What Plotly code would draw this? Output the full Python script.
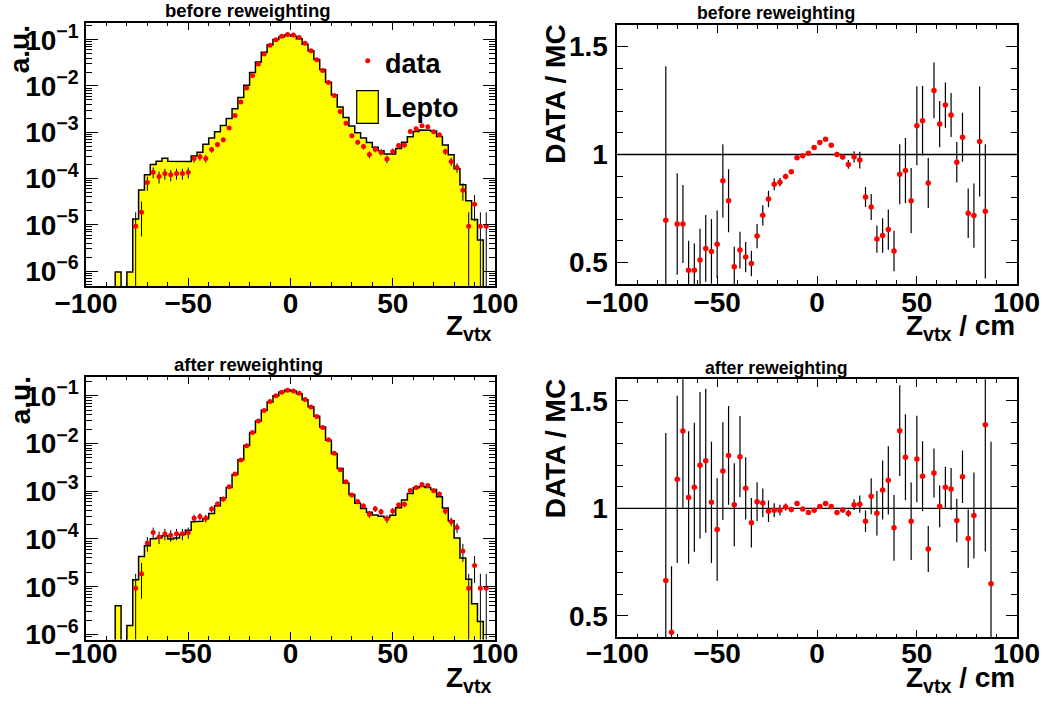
import numpy as np
import plotly.graph_objects as go

# ---- binning of the vertex z distribution -------------------------------
Z_LOW, Z_HIGH, N_BINS = -100.0, 100.0, 70
edges = np.linspace(Z_LOW, Z_HIGH, N_BINS + 1)
centers = 0.5 * (edges[:-1] + edges[1:])

# Lepto MC, normalised (a.u.), before the z-vertex reweighting
lepto_before = [
    0, 0, 0, 0, 0, 9.5e-7, 0, 9.5e-7, 1.33e-5, 5.66e-5,
    1.21e-4, 2.0e-4, 2.35e-4, 2.75e-4, 2.35e-4, 2.27e-4, 2.30e-4, 2.34e-4, 3.05e-4, 3.70e-4,
    5.5e-4, 7.5e-4, 1.03e-3, 1.39e-3, 1.99e-3, 3.2e-3, 5.65e-3, 1.04e-2, 1.95e-2, 3.3e-2,
    5.33e-2, 7.8e-2, 0.1005, 0.116, 0.126, 0.119, 0.105, 0.080, 0.0578, 0.0373,
    0.0227, 0.0120, 6.4e-3, 3.5e-3, 2.07e-3, 1.37e-3, 9.7e-4, 7.5e-4, 5.97e-4, 4.73e-4,
    4.0e-4, 3.37e-4, 3.38e-4, 4.46e-4, 6.1e-4, 8.0e-4, 1.04e-3, 1.12e-3, 1.11e-3, 1.06e-3,
    8.1e-4, 5.3e-4, 3.25e-4, 1.63e-4, 7.3e-5, 3.3e-5, 1.3e-5, 4.7e-6, 0, 0,
]

# Lepto MC, normalised (a.u.), after the z-vertex reweighting
lepto_after = [
    0, 0, 0, 0, 0, 4.0e-6, 0, 1.55e-6, 1.40e-5, 4.3e-5,
    7.2e-5, 1.01e-4, 1.05e-4, 1.17e-4, 1.0e-4, 1.05e-4, 1.245e-4, 1.52e-4, 2.30e-4, 2.36e-4,
    2.65e-4, 3.40e-4, 4.96e-4, 7.34e-4, 1.20e-3, 2.24e-3, 4.54e-3, 9.08e-3, 1.705e-2, 2.95e-2,
    4.93e-2, 7.38e-2, 0.1003, 0.120, 0.131, 0.125, 0.1096, 0.0827, 0.0589, 0.0372,
    0.0222, 0.0117, 6.11e-3, 2.99e-3, 1.49e-3, 8.56e-4, 5.61e-4, 4.35e-4, 3.63e-4, 3.16e-4,
    2.99e-4, 2.82e-4, 3.12e-4, 4.49e-4, 6.57e-4, 8.93e-4, 1.18e-3, 1.26e-3, 1.20e-3, 1.08e-3,
    7.66e-4, 4.46e-4, 2.41e-4, 1.05e-4, 4.0e-5, 1.43e-5, 4.4e-6, 1.86e-6, 0, 0,
]

# data, normalised (a.u.), and its statistical uncertainty
data_norm = [
    None, None, None, None, None, None, None, None, 9.3e-6, 1.86e-5,
    8.2e-5, 1.37e-4, 1.10e-4, 1.28e-4, 1.20e-4, 1.28e-4, 1.28e-4, 1.37e-4, 2.70e-4, 2.94e-4,
    2.70e-4, 4.22e-4, 5.42e-4, 6.85e-4, 1.24e-3, 2.30e-3, 4.48e-3, 9.0e-3, 1.69e-2, 2.97e-2,
    4.9e-2, 7.54e-2, 0.100, 0.118, 0.130, 0.126, 0.112, 0.0834, 0.0578, 0.0369,
    0.0217, 0.0119, 6.23e-3, 2.81e-3, 1.57e-3, 8.36e-4, 6.09e-4, 4.91e-4, 3.30e-4, 4.30e-4,
    3.70e-4, 2.65e-4, 3.83e-4, 5.16e-4, 5.33e-4, 1.04e-3, 1.19e-3, 1.38e-3, 1.31e-3, 1.02e-3,
    8.79e-4, 3.83e-4, 2.33e-4, 1.73e-4, 5.6e-5, 9.3e-6, 2.79e-5, 9.3e-6, 9.3e-6, None,
]
data_err = [
    0, 0, 0, 0, 0, 0, 0, 0, 9.3e-6, 1.3e-5,
    2.8e-5, 3.6e-5, 3.2e-5, 3.4e-5, 3.3e-5, 3.4e-5, 3.4e-5, 3.6e-5, 5.0e-5, 5.2e-5,
    5.0e-5, 6.3e-5, 7.1e-5, 8.0e-5, 1.07e-4, 1.46e-4, 2.0e-4, 2.9e-4, 4.0e-4, 5.3e-4,
    6.8e-4, 8.4e-4, 9.6e-4, 1.05e-3, 1.1e-3, 1.08e-3, 1.02e-3, 8.8e-4, 7.3e-4, 5.9e-4,
    4.5e-4, 3.3e-4, 2.4e-4, 1.6e-4, 1.21e-4, 8.8e-5, 7.5e-5, 6.8e-5, 5.5e-5, 6.3e-5,
    5.9e-5, 5.0e-5, 6.0e-5, 6.9e-5, 7.0e-5, 9.8e-5, 1.05e-4, 1.13e-4, 1.1e-4, 9.7e-5,
    9.0e-5, 6.0e-5, 4.65e-5, 4.0e-5, 2.3e-5, 9.3e-6, 1.6e-5, 9.3e-6, 9.3e-6, 0,
]

# DATA / MC before reweighting
ratio_before = [
    None, None, None, None, None, None, None, None, 0.695, None,
    0.678, 0.678, 0.464, 0.464, 0.511, 0.565, 0.551, 0.584, 0.878, 0.786,
    0.480, 0.557, 0.525, 0.495, 0.622, 0.718, 0.794, 0.862, 0.872, 0.898,
    0.920, 0.985, 0.994, 1.006, 1.033, 1.056, 1.071, 1.043, 1.000, 0.988,
    0.954, 0.989, 0.974, 0.803, 0.757, 0.608, 0.625, 0.652, 0.553, 0.909,
    0.926, 0.786, 1.133, 1.156, 0.868, 1.297, 1.141, 1.229, 1.183, 0.964,
    1.080, 0.728, 0.717, 1.060, 0.737, None, None, None, None, None,
]
ratio_before_err = [
    0, 0, 0, 0, 0, 0, 0, 0, 0.714, 0,
    0.235, 0.181, 0.136, 0.124, 0.145, 0.155, 0.150, 0.156, 0.170, 0.146,
    0.093, 0.085, 0.070, 0.059, 0.056, 0.047, 0.038, 0.028, 0.019, 0.013,
    0.010, 0.008, 0.007, 0.007, 0.007, 0.007, 0.007, 0.007, 0.008, 0.010,
    0.020, 0.026, 0.039, 0.046, 0.060, 0.063, 0.080, 0.093, 0.094, 0.139,
    0.151, 0.151, 0.183, 0.161, 0.116, 0.129, 0.107, 0.105, 0.102, 0.094,
    0.114, 0.115, 0.149, 0.255, 0.311, 0, 0, 0, 0, 0,
]

# DATA / MC after reweighting
ratio_after = [
    None, None, None, None, None, None, None, None, 0.664, 0.424,
    1.135, 1.359, 1.050, 1.098, 1.200, 1.221, 1.028, 0.901, 1.173, 1.246,
    1.017, 1.240, 1.093, 0.933, 1.031, 1.025, 0.986, 0.991, 0.991, 1.006,
    0.994, 1.022, 0.997, 0.981, 0.991, 1.008, 1.022, 1.008, 0.981, 0.992,
    0.977, 1.017, 1.019, 0.940, 1.056, 0.977, 1.085, 1.130, 0.909, 1.361,
    1.238, 0.940, 1.229, 1.149, 0.811, 1.164, 1.009, 1.098, 1.090, 0.943,
    1.147, 0.859, 0.966, None, 1.389, 0.649, None, None, None, None,
]
ratio_after_err = [
    0, 0, 0, 0, 0, 0, 0, 0, 0.686, 0.306,
    0.389, 0.362, 0.308, 0.300, 0.341, 0.335, 0.282, 0.239, 0.227, 0.230,
    0.193, 0.189, 0.145, 0.115, 0.090, 0.067, 0.050, 0.033, 0.025, 0.016,
    0.012, 0.010, 0.008, 0.008, 0.008, 0.008, 0.008, 0.008, 0.008, 0.010,
    0.016, 0.025, 0.040, 0.050, 0.084, 0.104, 0.137, 0.159, 0.153, 0.211,
    0.200, 0.180, 0.201, 0.163, 0.107, 0.114, 0.097, 0.095, 0.098, 0.101,
    0.122, 0.135, 0.200, 0, 0.590, 0.660, 0, 0, 0, 0,
]

# ---- styling ------------------------------------------------------------
W, H = 1045, 704
FONT = "Liberation Sans"
BLACK = "black"
RED = "#ff0000"
YELLOW = "#ffff00"
LOG_FLOOR = 1e-12   # empty bins are drawn down past the lower frame edge


def px_x(px):
    return px / W


def px_y(py):
    return 1 - py / H


def step_polygon(values):
    """Closed outline of a histogram: up/down steps through every bin edge."""
    xs, ys = [edges[0]], [LOG_FLOOR]
    for i, v in enumerate(values):
        h = v if v > 0 else LOG_FLOOR
        xs += [edges[i], edges[i + 1]]
        ys += [h, h]
    xs.append(edges[-1])
    ys.append(LOG_FLOOR)
    return xs, ys


def tick_font(size=28):
    return dict(family=FONT, size=size, color=BLACK, weight="bold")


fig = go.Figure()

panels = [
    # (x axis, y axis, MC histogram)
    ("x", "y", lepto_before),
    ("x3", "y3", lepto_after),
]
for xa, ya, mc in panels:
    hx, hy = step_polygon(mc)
    fig.add_trace(go.Scatter(
        x=hx, y=hy, mode="lines", fill="toself", fillcolor=YELLOW,
        line=dict(color=BLACK, width=1.5), xaxis=xa, yaxis=ya,
        showlegend=False, hoverinfo="skip"))
    fig.add_trace(go.Scatter(
        x=centers, y=data_norm, mode="markers",
        marker=dict(color=RED, size=5),
        error_y=dict(type="data", array=data_err, color=BLACK, thickness=1, width=0),
        xaxis=xa, yaxis=ya, showlegend=False))

ratio_panels = [
    ("x2", "y2", ratio_before, ratio_before_err),
    ("x4", "y4", ratio_after, ratio_after_err),
]
for xa, ya, r, re in ratio_panels:
    fig.add_trace(go.Scatter(
        x=[Z_LOW, Z_HIGH], y=[1, 1], mode="lines",
        line=dict(color=BLACK, width=1.3), xaxis=xa, yaxis=ya,
        showlegend=False, hoverinfo="skip"))
    fig.add_trace(go.Scatter(
        x=centers, y=r, mode="markers",
        marker=dict(color=RED, size=5.5),
        error_y=dict(type="data", array=re, color=BLACK, thickness=1.2, width=0),
        xaxis=xa, yaxis=ya, showlegend=False))

# ---- axes ---------------------------------------------------------------
x_major = [-100, -50, 0, 50, 100]
x_minor = list(range(-100, 101, 10))
log_major = [10.0 ** d for d in range(-6, 0)]
log_text = ["10<sup>\u2212%d</sup>" % (-d) for d in range(-6, 0)]
log_minor = [m * 10.0 ** d for d in range(-7, 0) for m in range(2, 10)]
ratio_minor = [round(0.4 + 0.1 * i, 2) for i in range(13)]


def frame_common():
    return dict(showline=True, linecolor=BLACK, linewidth=1.5, mirror="allticks",
                ticks="inside", tickcolor=BLACK, tickwidth=1, automargin=False,
                showgrid=False, zeroline=False)


def x_axis(domain, anchor, standoff):
    d = frame_common()
    d.update(domain=domain, anchor=anchor, range=[Z_LOW, Z_HIGH],
             tickmode="array", tickvals=x_major,
             ticktext=["\u2212100", "\u221250", "0", "50", "100"],
             ticklen=8, tickfont=tick_font(28), ticklabelstandoff=standoff,
             minor=dict(tickmode="array", tickvals=x_minor, ticks="inside",
                        ticklen=4, tickcolor=BLACK, tickwidth=1, showgrid=False))
    return d


def log_axis(domain, anchor, lo, hi):
    d = frame_common()
    d.update(domain=domain, anchor=anchor, type="log",
             range=[np.log10(lo), np.log10(hi)],
             tickmode="array", tickvals=log_major, ticktext=log_text,
             ticklen=12, tickfont=tick_font(28), ticklabelstandoff=0,
             minor=dict(tickmode="array", tickvals=log_minor, ticks="inside",
                        ticklen=6, tickcolor=BLACK, tickwidth=1, showgrid=False))
    return d


def ratio_axis(domain, anchor):
    d = frame_common()
    d.update(domain=domain, anchor=anchor, range=[0.4, 1.6],
             tickmode="array", tickvals=[0.5, 1.0, 1.5], ticktext=["0.5", "1", "1.5"],
             ticklen=11, tickfont=tick_font(28), ticklabelstandoff=2,
             minor=dict(tickmode="array", tickvals=ratio_minor, ticks="inside",
                        ticklen=5.5, tickcolor=BLACK, tickwidth=1, showgrid=False))
    return d


left_dom = [px_x(86), px_x(495)]
right_dom = [px_x(617.3), px_x(1016.7)]

fig.update_layout(
    template="none",
    width=W, height=H, autosize=False,
    margin=dict(l=0, r=0, t=0, b=0, autoexpand=False),
    paper_bgcolor="white", plot_bgcolor="white",
    xaxis=x_axis(left_dom, "y", -8),
    yaxis=log_axis([px_y(286), px_y(22.7)], "x", 4.75e-7, 0.233),
    xaxis2=x_axis(right_dom, "y2", -7),
    yaxis2=ratio_axis([px_y(284), px_y(25)], "x2"),
    xaxis3=x_axis(left_dom, "y3", -12),
    yaxis3=log_axis([px_y(639.5), px_y(376.7)], "x3", 7.85e-7, 0.25),
    xaxis4=x_axis(right_dom, "y4", -10),
    yaxis4=ratio_axis([px_y(637.3), px_y(379.3)], "x4"),
)

# ---- titles, axis titles, legend ----------------------------------------
def label(text, x, y, size, xanchor="center", yanchor="middle", angle=0):
    fig.add_annotation(text=text, x=px_x(x), y=px_y(y), xref="paper", yref="paper",
                       xanchor=xanchor, yanchor=yanchor, textangle=angle,
                       showarrow=False, font=tick_font(size))


label("before reweighting", 247.5, 10.3, 18.5)
label("before reweighting", 776, 13.4, 17.7)
label("after reweighting", 248.5, 364.3, 18.5)
label("after reweighting", 776, 367.9, 17.7)

label("a.u.", 20.3, 49, 28, angle=-90)
label("a.u.", 20.3, 400, 28, angle=-90)
label("DATA / MC", 555.3, 94.5, 28, angle=-90)
label("DATA / MC", 555.3, 449, 28, angle=-90)

label("Z<sub>vtx</sub>", 494, 307.7, 28, xanchor="right", yanchor="top")
label("Z<sub>vtx</sub>", 494, 659.7, 28, xanchor="right", yanchor="top")
label("Z<sub>vtx</sub> / cm", 1017, 307.7, 28, xanchor="right", yanchor="top")
label("Z<sub>vtx</sub> / cm", 1017, 659.7, 28, xanchor="right", yanchor="top")

# legend of the upper-left panel
fig.add_shape(type="circle", xref="paper", yref="paper",
              x0=px_x(365.2), x1=px_x(370.2), y0=px_y(63.2), y1=px_y(58.2),
              fillcolor=RED, line=dict(width=0))
fig.add_shape(type="rect", xref="paper", yref="paper",
              x0=px_x(356.7), x1=px_x(378.3), y0=px_y(123.3), y1=px_y(90.7),
              fillcolor=YELLOW, line=dict(color=BLACK, width=1.2))
label("data", 383, 63.6, 27, xanchor="left")
label("Lepto", 383, 107.6, 27, xanchor="left")

fig.write_html("out.html")
